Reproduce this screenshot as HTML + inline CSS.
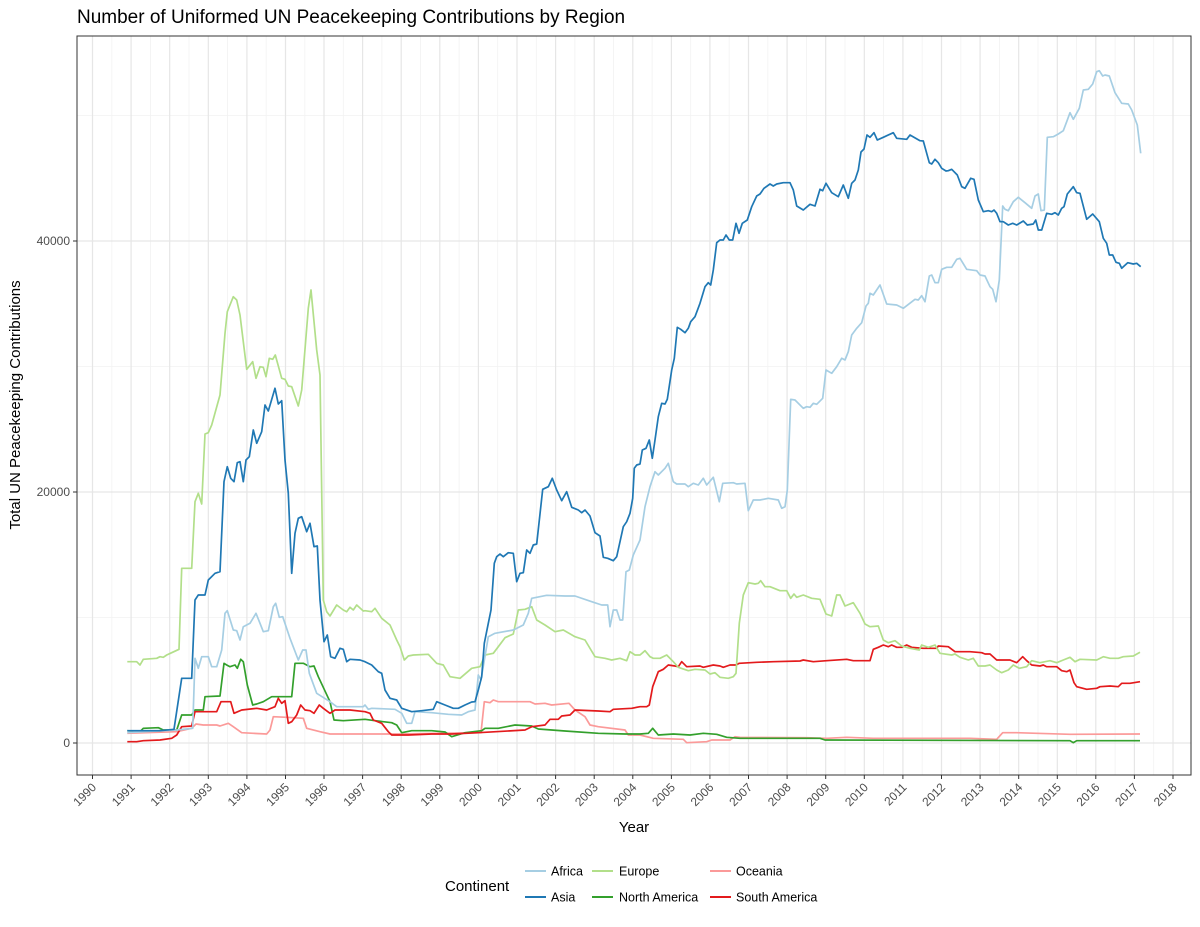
<!DOCTYPE html>
<html><head><meta charset="utf-8"><style>
body{margin:0;background:#fff;}
svg{display:block;font-family:"Liberation Sans",Arial,sans-serif;}
</style></head><body>
<svg width="1200" height="927" viewBox="0 0 1200 927" xmlns="http://www.w3.org/2000/svg">
<rect width="1200" height="927" fill="#fff"/>
<text x="77" y="23" font-size="19" fill="#000">Number of Uniformed UN Peacekeeping Contributions by Region</text>
<g stroke="#f2f2f2" stroke-width="0.8">
<line x1="77" x2="1191" y1="617.5" y2="617.5"/><line x1="77" x2="1191" y1="366.5" y2="366.5"/><line x1="77" x2="1191" y1="115.5" y2="115.5"/>
<line x1="111.8" x2="111.8" y1="36" y2="775"/><line x1="150.4" x2="150.4" y1="36" y2="775"/><line x1="189" x2="189" y1="36" y2="775"/><line x1="227.6" x2="227.6" y1="36" y2="775"/><line x1="266.2" x2="266.2" y1="36" y2="775"/><line x1="304.8" x2="304.8" y1="36" y2="775"/><line x1="343.3" x2="343.3" y1="36" y2="775"/><line x1="381.9" x2="381.9" y1="36" y2="775"/><line x1="420.5" x2="420.5" y1="36" y2="775"/><line x1="459.1" x2="459.1" y1="36" y2="775"/><line x1="497.7" x2="497.7" y1="36" y2="775"/><line x1="536.3" x2="536.3" y1="36" y2="775"/><line x1="574.9" x2="574.9" y1="36" y2="775"/><line x1="613.5" x2="613.5" y1="36" y2="775"/><line x1="652.1" x2="652.1" y1="36" y2="775"/><line x1="690.7" x2="690.7" y1="36" y2="775"/><line x1="729.2" x2="729.2" y1="36" y2="775"/><line x1="767.8" x2="767.8" y1="36" y2="775"/><line x1="806.4" x2="806.4" y1="36" y2="775"/><line x1="845" x2="845" y1="36" y2="775"/><line x1="883.6" x2="883.6" y1="36" y2="775"/><line x1="922.2" x2="922.2" y1="36" y2="775"/><line x1="960.8" x2="960.8" y1="36" y2="775"/><line x1="999.4" x2="999.4" y1="36" y2="775"/><line x1="1038" x2="1038" y1="36" y2="775"/><line x1="1076.6" x2="1076.6" y1="36" y2="775"/><line x1="1115.1" x2="1115.1" y1="36" y2="775"/><line x1="1153.7" x2="1153.7" y1="36" y2="775"/>
</g>
<g stroke="#e6e6e6" stroke-width="1.2">
<line x1="77" x2="1191" y1="743" y2="743"/><line x1="77" x2="1191" y1="492" y2="492"/><line x1="77" x2="1191" y1="241" y2="241"/>
<line x1="92.5" x2="92.5" y1="36" y2="775"/><line x1="131.1" x2="131.1" y1="36" y2="775"/><line x1="169.7" x2="169.7" y1="36" y2="775"/><line x1="208.3" x2="208.3" y1="36" y2="775"/><line x1="246.9" x2="246.9" y1="36" y2="775"/><line x1="285.5" x2="285.5" y1="36" y2="775"/><line x1="324" x2="324" y1="36" y2="775"/><line x1="362.6" x2="362.6" y1="36" y2="775"/><line x1="401.2" x2="401.2" y1="36" y2="775"/><line x1="439.8" x2="439.8" y1="36" y2="775"/><line x1="478.4" x2="478.4" y1="36" y2="775"/><line x1="517" x2="517" y1="36" y2="775"/><line x1="555.6" x2="555.6" y1="36" y2="775"/><line x1="594.2" x2="594.2" y1="36" y2="775"/><line x1="632.8" x2="632.8" y1="36" y2="775"/><line x1="671.4" x2="671.4" y1="36" y2="775"/><line x1="709.9" x2="709.9" y1="36" y2="775"/><line x1="748.5" x2="748.5" y1="36" y2="775"/><line x1="787.1" x2="787.1" y1="36" y2="775"/><line x1="825.7" x2="825.7" y1="36" y2="775"/><line x1="864.3" x2="864.3" y1="36" y2="775"/><line x1="902.9" x2="902.9" y1="36" y2="775"/><line x1="941.5" x2="941.5" y1="36" y2="775"/><line x1="980.1" x2="980.1" y1="36" y2="775"/><line x1="1018.7" x2="1018.7" y1="36" y2="775"/><line x1="1057.3" x2="1057.3" y1="36" y2="775"/><line x1="1095.8" x2="1095.8" y1="36" y2="775"/><line x1="1134.4" x2="1134.4" y1="36" y2="775"/><line x1="1173" x2="1173" y1="36" y2="775"/>
</g>
<g fill="none" stroke-width="1.7" stroke-linejoin="round">
<polyline stroke="#FB9A99" points="127.3,733.3 176.7,731.7 191.7,728.3 196,724 203.3,725 216.7,725 220,726 228.3,723.3 233.3,726.7 241.7,732.7 253.3,733.3 266.7,734 270,730 273.3,716.7 286.7,717.3 303.3,718.3 306.7,728.3 320,731.7 330,734 398.3,734 478.3,732.7 481,732.7 484.3,701.7 490,702.7 493.3,700 498.3,701.7 530,701.7 535,704 545,703.3 551.7,705 569,703.3 575,710 585,716.7 590,725 598.3,726.7 625,730 628.3,735 640,735 653.3,738.3 683.3,739.3 686.7,742.7 706.7,741.7 711.7,740 730,740 735,736.7 740,737.3 806.7,737.7 826.7,738.3 846.7,737.3 873.3,738.3 970,738.3 996.7,739.3 1002.7,732.7 1016.7,732.7 1036.7,733.3 1070,734.3 1140,734"/>
<polyline stroke="#33A02C" points="127.3,730.7 140,731.7 143.3,728.3 158.3,727.7 163.3,730 176.7,730 181.7,715 191.7,715 195,710 203.3,710 205,696.7 220,696 224,663.3 226.7,665 230,666.7 235,665 237.3,668.3 240.7,659.3 243.3,661.7 247.3,685 252.7,705 256.7,704 263.3,701.7 271.7,696.7 291.7,696.7 295,663.3 303.3,663.3 310,666.7 314,666 318.3,676.7 330,701.7 334,720 343.3,720.7 365,719.3 375,720.7 391.7,722.7 396.7,725 401.7,732.7 411.7,730.7 431.7,730.7 445,732 451.7,736.7 465,732.7 481.7,730.7 485,728.3 498.3,728.3 515,725 531.7,726 538.3,729 565,731 598.3,733.3 625,734 640,734 648.3,733.3 652.7,728.3 658.3,735 673.3,734 690,735 703.3,733.3 716.7,734.3 726.7,737.3 740,738.3 820,738.3 825,740 1070,740.7 1073.3,742.7 1076.7,740.7 1140,740.7"/>
<polyline stroke="#E31A1C" points="127.3,741.7 136.7,741.7 143.3,740.7 160,740 171.7,738.3 176.7,735 181.7,726.7 191.7,726 195,711.7 216.7,711.7 221,701.7 230.7,701.7 234,713.3 241.7,710 256.7,708.3 266.7,710 275,706.7 278.3,698.3 281.7,703.3 285,700.7 288.3,723.3 291.7,721.7 296.7,715 300.7,705 305,710 310,710.7 314,713.3 319.3,705 323.3,708.3 330,713.3 335,710 350,710 365,711.7 370,713.3 373.3,720 381.7,723.3 388.3,731.7 391.7,735 408.3,735 431.7,734 451.7,734 478.3,732.7 525,730 531.7,726.7 545,725 550,719.3 558.3,719.3 561.7,716 570,715 575,710 598.3,711 610,711.7 613.3,709.3 631.7,708.3 640,706.7 646.7,706.7 649.3,705 652.7,686.7 658.3,671.7 663.3,669.3 668.3,665 675,666 678.3,666.7 681.7,661.7 686.7,666.7 700,666 703.3,667.3 713.3,665 720,666 723.3,667.3 730,665 736,665 739.3,663.3 756.7,662.3 773.3,661.7 800,661 803.3,660 813.3,661.7 826.7,660.7 846.7,659.3 853.3,660.7 870,660.7 873.3,649.3 878.3,647.3 883.3,645 888.3,646.7 891.7,645 896.7,647.3 901.7,647.3 906.7,645 911.7,647.3 923.3,648.3 936.7,648.3 938.3,646 948.3,646.7 955,651.7 970,651.7 981.7,652.7 985,654 990,654 996.7,660 1010,660 1016.7,662.7 1022.7,656.7 1026.7,660.7 1031.7,665 1040,666 1043.3,665 1046.7,666.7 1056.7,666.7 1061.7,670.7 1066.7,671.7 1070,670 1074,682.7 1076.7,686.7 1086.7,689.3 1096.7,688.3 1100,686.7 1110,686 1118.3,686.7 1121.7,683.3 1130,683.3 1140,681.7"/>
<polyline stroke="#B2DF8A" points="127.3,661.7 136.7,661.7 140,665 143.3,659.3 156.7,658.3 160,656.7 163.3,657.3 166.7,655 171.7,652.7 179,649.3 181.7,568.3 191.7,568.3 195,501.7 198.3,493.3 201.7,504 205,434 208.3,432.7 211.7,425 220,395 225,333.3 227.3,311.7 233.3,296.7 236.7,300 240,315 246.7,369.3 252.7,361.7 256,378.3 260,366.7 263.3,367.3 266,376.7 269.3,358.3 272.7,359.3 275.3,355 281.7,378.3 285,379.3 288.3,386 291.7,386.7 298.3,406 301.7,390 308.3,308.3 311,290 316.7,350 320,375 323.3,600 326.7,611.7 330,616 336.7,605 343.3,610 346.7,611.7 350,607.3 353.3,610 356.7,605 363.3,611 365,610.7 371.7,611.7 375,608.3 381.7,618.3 390,625 396.7,640 400,646.7 404.3,660 408.3,656 413.3,655 428.3,654.3 436.7,663.3 443.3,665 450,676.7 460,678.3 471.7,668.3 480,666.7 485,655 493.3,653.3 498.3,646.7 505,637.7 513.3,634 518.3,610 525,609.3 531.7,606.7 536.7,620 545,625 555,631.7 563.3,630 575,636.7 585,640 595,656.7 605,658.3 611.7,660 620,658.3 626.7,660.7 630,651.7 635,655 640,655 645,650.7 650,656.7 653.3,658.3 660,658.3 666.7,655 673.3,661.7 678.3,667.3 688.3,670.7 695,669.3 705,670 710,674 715,672.7 720,677.3 728.3,678.3 733.3,676.7 736,673.3 739.3,623.3 743.3,595 748.3,582.7 755,584 758.3,583.3 760.7,580.7 765,586.7 770,586.7 780,590.7 786.7,590.7 790.7,598.3 794,594 796.7,597.3 803.3,595 811.7,598.3 820,599.3 826,614 831.7,616 836.7,595 840,595 845,606 853.3,602.7 860,613.3 865,624 870,626.7 878.3,626 883.3,640 888.3,642.7 895,640.7 901.7,646 910,648.3 919.3,650 921.7,645 928.3,647.3 935,645 940,653.3 951.7,655 955,654 960,657.3 968.3,660 973.3,658.3 978.3,666 985,666 990,665 996.7,670 1001.7,672.7 1008.3,670 1013.3,665 1019.3,668.3 1026.7,666.7 1031.7,660.7 1040,662.7 1050,660.7 1056.7,662.7 1063.3,660 1070,657.3 1075,661.7 1080,659.3 1096.7,660 1103.3,656.7 1110,658.3 1118.3,658.3 1123.3,656.7 1133.3,656 1140,652.3"/>
<polyline stroke="#A6CEE3" points="127.3,732.7 176.7,730 192.7,728.3 195,658.3 198.3,668.3 201.7,656.7 208.3,656.7 211.7,666.7 216.7,666.7 221.7,650 225,613.3 227.3,610.7 233.3,630 236.7,630.7 240,640 243.3,626.7 250,623.3 256,613.3 260,623.3 263.3,631.7 268.3,630.7 273.3,606.7 275.7,603.3 279.3,617.3 282.7,616.7 290,638.3 298.3,660 302.7,650 306,650 309.3,673.3 316.7,693.3 330,701.7 336.7,706.7 363.3,706.7 365,705 368.3,709.3 371.7,708.3 395,709.3 401.7,713.3 406.7,723.3 411.7,723.3 415,711.7 431.7,712.7 448.3,714.3 461.7,715 468.3,711.7 475,710 478.3,675 481,680 488.3,636.7 495,633.3 513.3,630 523.3,625 528.3,613.3 531.7,598.3 546.7,595.3 565,596 575,596 591.7,601.7 601.7,605 607.7,605 610,626.7 613.3,610 616.7,610 620,620 622.7,620 626,571.7 629.3,570 633.3,555 640,540 645,506.7 650,486.7 655,471.7 658.3,475 665,468.3 668.3,463.3 673.3,481.7 676.7,484 685,484 688.3,486.7 693.3,483.3 698.3,485 703.3,478.3 706.7,485 713.3,477.3 719.3,501.7 722.7,483.3 733.3,482.7 736.7,484 745,483.3 748.3,510.7 753.3,500 760,500 768.3,498.3 778.3,500 781.7,508.3 785,506.7 787.3,490 790.7,399.3 795,400 803.3,408.3 806.7,406.7 810,407.3 813.3,403.3 816.7,404.3 822.7,398.3 826,370 831.7,373.3 836.7,366.7 841.7,358.3 845,360 848.3,351.7 851.7,335 856.7,328.3 861.7,322.7 866,306 868.3,303.3 870,293.3 873.3,295 880,285 886.7,304 896.7,305 903.3,308.3 915,299.3 918.3,300 921.7,295.7 925,301.7 929.3,276 931.7,275 935,282.7 938.3,282.7 941.7,269.3 946.7,267.3 951.7,267.3 956.7,259.3 960,258.3 966.7,269.3 976.7,270.7 980,275 985,276 990,286.7 992.7,289.3 996,301.7 999.3,280 1002.7,206 1005,209.3 1008.3,210.7 1013.3,201.7 1018.3,197.3 1025,202.7 1031.7,208.3 1035,196 1038.3,194 1041,210.7 1044.3,210 1047.3,137.3 1053.3,136.7 1058.3,134 1063.3,130.7 1066.7,121.7 1070,112.7 1073.3,119.3 1079.3,108.3 1083.3,90 1088.3,89.3 1092.7,84 1096.7,71.7 1099.3,70.7 1102.7,76 1105,75 1109.3,76 1115,92.7 1121.7,103.3 1128.3,104 1131.7,110 1137.3,125 1140.7,153.3"/>
<polyline stroke="#1F78B4" points="127.3,730.7 160,730.7 174,729.3 181.7,678.3 191.7,678.3 195,600 198.3,595 205,595 208.3,580 215,573.3 220,571.7 224,481.7 227.3,466.7 230.7,478.3 234,481.7 237.3,462.7 240,461.7 243.3,481.7 246,460 249.3,456.7 253.3,430 256.7,443.3 261.7,431.7 265,405 268.3,411 275,388.3 278.3,404 281.7,400.7 285,460 288.3,493.3 291.7,573.3 295,533.3 298.3,518.3 301.7,516.7 306.7,531.7 310,523.3 314,546.7 317.3,546 320,600 324,641.7 327.3,635 330.7,656.7 335,658.3 340,648.3 343.3,649.3 346.7,661.7 350,659.3 360,660 365,661.7 371.7,665 378.3,671.7 381.7,673.3 385,690 390,698.3 396.7,700 401.7,708.3 411.7,711.7 421.7,710.7 433.3,709.3 436.7,701.7 445,705 453.3,708.3 458.3,708.3 465,705 471.7,702 475,701.7 478.3,690 481.7,676.7 484.3,643.3 488.3,623.3 491,610 494.3,563.3 496.7,556.7 500,554 503.3,556.7 508.3,552.7 513.3,553.3 516.7,581.7 520,573.3 523.3,572.7 526.7,550 530,553.3 533.3,545 536.7,544 542.7,489.3 548.3,486.7 552.3,478.3 556.7,490 561.7,500.7 566.7,491.7 571.7,507.3 578.3,510 581.7,512.7 585,510 590,516 595,532.7 600,536 603.3,557.3 607.7,558.3 613.3,560.7 616.7,556.7 623.3,526.7 626.7,521.7 630,513.3 632.7,498.3 634.3,468.3 636.7,465 640,464 642.3,450 646,448.3 649.3,440 652.3,458.3 655,440 658.3,416.7 661.7,403.3 665,404 667.3,399.3 671.7,370 674.3,358.3 677.3,327.3 680.7,329.3 685,332.7 688.3,328.3 690.7,321.7 695,316.7 700,303.3 705,286.7 708.3,282.7 710.7,285 713.3,270 716.7,242.7 720,240 723.3,240 726,235 729.3,240 732.7,240 736,223.3 739,233.3 742.3,223.3 747.3,220 751.7,206.7 756.7,196 760,194 764,188.3 770,184 773.3,186 776.7,184 783.3,182.7 790,182.7 793.3,190 796.7,206 803.3,210 810,204.3 815,206 820,189.3 822.7,190.7 826,183.3 831.7,192.7 838.3,196.7 843.3,185 848.3,198.3 851.7,183.3 855,180 858.3,170 861,152 864,149 867,135 870,137.3 874,132.7 877.3,140 883.3,137.3 893.3,132.7 896.7,138.3 906.7,139.3 910,135 920,140.7 923.3,141 929.3,162.7 931.7,164 935,159.3 938.3,162.7 941.7,168.3 946,171 948.3,170.7 951.7,169.3 957.3,175 961.7,186.7 965,188.3 970.7,178.3 974,179.3 978.3,200 983.3,211.7 988.3,210.7 991.7,211.7 994,210 996.7,213.3 1000,221.7 1003.3,221.7 1008.3,225 1012.7,223.3 1016.7,225 1023.3,221 1027.3,225 1033.3,224 1035.7,220 1038.3,230 1041.7,230 1046.7,213.3 1051.7,214.3 1055,212.7 1058.3,215 1061.7,208.3 1064,206.7 1067.3,194 1073.3,186.7 1076.7,192.7 1080,193.3 1086.7,219.3 1092.7,214 1099.3,221.7 1103.3,238.3 1106.7,243.3 1109.3,255 1112.7,255 1116,262.3 1119.3,263.3 1121.7,268.3 1127.7,262.7 1133.3,264 1136.7,263.3 1140.7,266.7"/>
</g>
<rect x="77" y="36" width="1114" height="739" fill="none" stroke="#333" stroke-width="1"/>
<g stroke="#333" stroke-width="1">
<line x1="73" x2="77" y1="743" y2="743"/><line x1="73" x2="77" y1="492" y2="492"/><line x1="73" x2="77" y1="241" y2="241"/>
</g>
<g font-size="12" fill="#4d4d4d" text-anchor="end">
<text x="70" y="747">0</text><text x="70" y="496">20000</text><text x="70" y="245">40000</text>
</g>
<g stroke="#333" stroke-width="1">
<line x1="92.5" x2="92.5" y1="775" y2="779"/><line x1="131.1" x2="131.1" y1="775" y2="779"/><line x1="169.7" x2="169.7" y1="775" y2="779"/><line x1="208.3" x2="208.3" y1="775" y2="779"/><line x1="246.9" x2="246.9" y1="775" y2="779"/><line x1="285.5" x2="285.5" y1="775" y2="779"/><line x1="324" x2="324" y1="775" y2="779"/><line x1="362.6" x2="362.6" y1="775" y2="779"/><line x1="401.2" x2="401.2" y1="775" y2="779"/><line x1="439.8" x2="439.8" y1="775" y2="779"/><line x1="478.4" x2="478.4" y1="775" y2="779"/><line x1="517" x2="517" y1="775" y2="779"/><line x1="555.6" x2="555.6" y1="775" y2="779"/><line x1="594.2" x2="594.2" y1="775" y2="779"/><line x1="632.8" x2="632.8" y1="775" y2="779"/><line x1="671.4" x2="671.4" y1="775" y2="779"/><line x1="709.9" x2="709.9" y1="775" y2="779"/><line x1="748.5" x2="748.5" y1="775" y2="779"/><line x1="787.1" x2="787.1" y1="775" y2="779"/><line x1="825.7" x2="825.7" y1="775" y2="779"/><line x1="864.3" x2="864.3" y1="775" y2="779"/><line x1="902.9" x2="902.9" y1="775" y2="779"/><line x1="941.5" x2="941.5" y1="775" y2="779"/><line x1="980.1" x2="980.1" y1="775" y2="779"/><line x1="1018.7" x2="1018.7" y1="775" y2="779"/><line x1="1057.3" x2="1057.3" y1="775" y2="779"/><line x1="1095.8" x2="1095.8" y1="775" y2="779"/><line x1="1134.4" x2="1134.4" y1="775" y2="779"/><line x1="1173" x2="1173" y1="775" y2="779"/>
</g>
<g font-size="12" fill="#4d4d4d" text-anchor="end">
<text transform="translate(97,788) rotate(-45)">1990</text><text transform="translate(135.6,788) rotate(-45)">1991</text><text transform="translate(174.2,788) rotate(-45)">1992</text><text transform="translate(212.8,788) rotate(-45)">1993</text><text transform="translate(251.4,788) rotate(-45)">1994</text><text transform="translate(290,788) rotate(-45)">1995</text><text transform="translate(328.5,788) rotate(-45)">1996</text><text transform="translate(367.1,788) rotate(-45)">1997</text><text transform="translate(405.7,788) rotate(-45)">1998</text><text transform="translate(444.3,788) rotate(-45)">1999</text><text transform="translate(482.9,788) rotate(-45)">2000</text><text transform="translate(521.5,788) rotate(-45)">2001</text><text transform="translate(560.1,788) rotate(-45)">2002</text><text transform="translate(598.7,788) rotate(-45)">2003</text><text transform="translate(637.3,788) rotate(-45)">2004</text><text transform="translate(675.9,788) rotate(-45)">2005</text><text transform="translate(714.4,788) rotate(-45)">2006</text><text transform="translate(753,788) rotate(-45)">2007</text><text transform="translate(791.6,788) rotate(-45)">2008</text><text transform="translate(830.2,788) rotate(-45)">2009</text><text transform="translate(868.8,788) rotate(-45)">2010</text><text transform="translate(907.4,788) rotate(-45)">2011</text><text transform="translate(946,788) rotate(-45)">2012</text><text transform="translate(984.6,788) rotate(-45)">2013</text><text transform="translate(1023.2,788) rotate(-45)">2014</text><text transform="translate(1061.8,788) rotate(-45)">2015</text><text transform="translate(1100.3,788) rotate(-45)">2016</text><text transform="translate(1138.9,788) rotate(-45)">2017</text><text transform="translate(1177.5,788) rotate(-45)">2018</text>
</g>
<text x="634" y="832" font-size="15" text-anchor="middle" fill="#000">Year</text>
<text transform="translate(20,405) rotate(-90)" font-size="15" text-anchor="middle" fill="#000">Total UN Peacekeeping Contributions</text>
<text x="445" y="891" font-size="15" fill="#000">Continent</text>
<g stroke-width="2">
<line x1="525" x2="546" y1="871" y2="871" stroke="#A6CEE3"/><line x1="592" x2="613" y1="871" y2="871" stroke="#B2DF8A"/><line x1="710" x2="731" y1="871" y2="871" stroke="#FB9A99"/>
<line x1="525" x2="546" y1="897" y2="897" stroke="#1F78B4"/><line x1="592" x2="613" y1="897" y2="897" stroke="#33A02C"/><line x1="710" x2="731" y1="897" y2="897" stroke="#E31A1C"/>
</g>
<g font-size="12.5" fill="#000">
<text x="551" y="875.5">Africa</text><text x="619" y="875.5">Europe</text><text x="736" y="875.5">Oceania</text>
<text x="551" y="901.5">Asia</text><text x="619" y="901.5">North America</text><text x="736" y="901.5">South America</text>
</g>
</svg>
</body></html>
